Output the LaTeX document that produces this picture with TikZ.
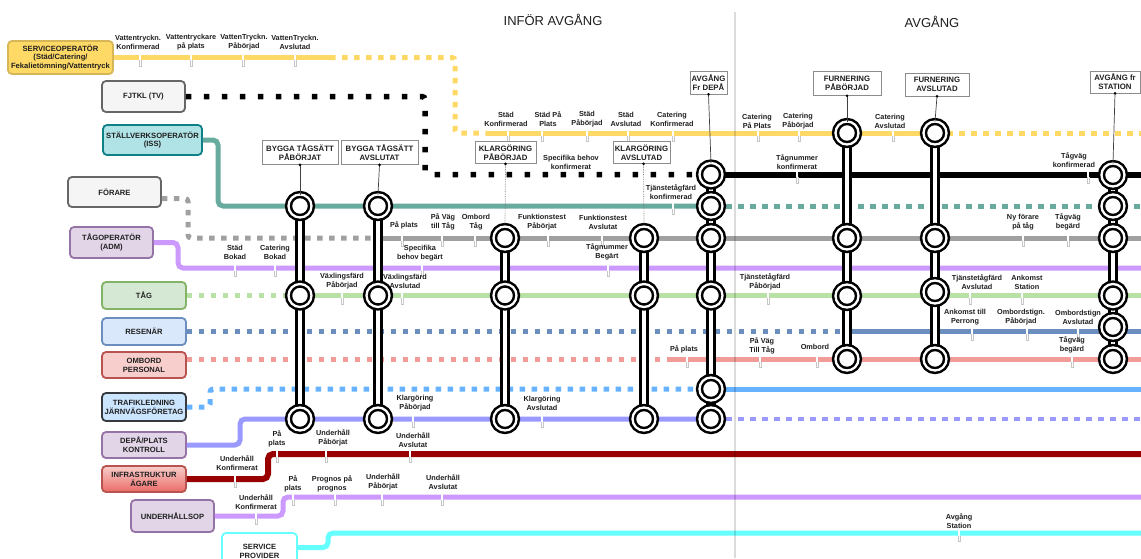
\documentclass[tikz,border=0pt]{standalone}
\usepackage{fontspec}
\setmainfont{Liberation Sans}
\usetikzlibrary{calc}
% line colours
\definecolor{cYel}{HTML}{FFD966}
\definecolor{cYelD}{HTML}{D6B656}
\definecolor{cTeal}{HTML}{67AB9F}
\definecolor{cGray}{HTML}{A0A0A0}
\definecolor{cPur}{HTML}{CC99FF}
\definecolor{cGrn}{HTML}{B9E0A5}
\definecolor{cBlu}{HTML}{6C8EBF}
\definecolor{cRed}{HTML}{F19C99}
\definecolor{cLBl}{HTML}{66B2FF}
\definecolor{cPeri}{HTML}{9999FF}
\definecolor{cDRed}{HTML}{990000}
\definecolor{cCyan}{HTML}{66FFFF}
% box colours
\definecolor{fGrey}{HTML}{F5F5F5}
\definecolor{dGrey}{HTML}{666666}
\definecolor{fTeal}{HTML}{B0E3E6}
\definecolor{dTeal}{HTML}{0E8088}
\definecolor{fPur}{HTML}{E1D5E7}
\definecolor{dPur}{HTML}{9673A6}
\definecolor{fGrn}{HTML}{D5E8D4}
\definecolor{dGrn}{HTML}{82B366}
\definecolor{fBlu}{HTML}{DAE8FC}
\definecolor{fRed}{HTML}{F8CECC}
\definecolor{dRed}{HTML}{B85450}
\definecolor{fLBl}{HTML}{CCE5FF}
\definecolor{dDark}{HTML}{36393D}
\definecolor{gRed}{HTML}{EA6B66}
% small white gap with a grey foot, marking where a label sits on a line
\newcommand\mytick[2]{%
  \fill[white] (#1-1,#2-3.6) rectangle (#1+1,#2+3.6);
  \draw[black!22,line width=0.35] (#1-1,#2+2.8) -- (#1-1,#2+8.5) -- (#1+1,#2+8.5) -- (#1+1,#2+2.8);}
\begin{document}
\begin{tikzpicture}[x=1pt, y=-1pt,
  every node/.style={text=black!88},
  actor/.style={draw, rounded corners=4, line width=1.8, align=center, inner sep=1,
     font=\fontsize{7.6}{8.8}\selectfont\bfseries},
  stbox/.style={draw=black!45, fill=white, line width=0.7, align=center, inner sep=1,
     font=\fontsize{7.8}{9}\selectfont\bfseries},
  stn/.style={circle, draw=black, line width=2.5, double=white, double distance=2.3,
     fill=white, minimum size=23, inner sep=0, outer sep=0},
  lbl/.style={align=center, inner sep=0, font=\fontsize{7.3}{8.9}\selectfont\bfseries},
  trk/.style={line width=5, rounded corners=5},
  dotline/.style={line width=5, dash pattern=on 5.5 off 6.5},
  bigdot/.style={line width=5.5, dash pattern=on 5.5 off 12.5},
  bar/.style={line width=9.5, black},
  barin/.style={line width=4.2, white},
  pin/.style={black!75, line width=0.7},
  dpin/.style={black!55, line width=0.7, densely dotted},
]
\useasboundingbox (0,0) rectangle (1141,558);
\clip (0,0) rectangle (1141,558);

% ---------- section titles ----------
\node[font=\fontsize{13}{15}\selectfont] (ttlA) at (553,20) {INFÖR AVGÅNG};
\node[font=\fontsize{13}{15}\selectfont] (ttlB) at (932,22) {AVGÅNG};

% ---------- actors ----------
\node[actor, fill=cYel, draw=cYelD, minimum width=105, minimum height=33] (svc) at (60.5,57.5)
  {SERVICEOPERATÖR\\(Städ/Catering/\\Fekalietömning/Vattentryck};
\node[actor, fill=fGrey, draw=dGrey, minimum width=83, minimum height=31] (fjtkl) at (143.5,96.5) {FJTKL (TV)};
\node[actor, fill=fTeal, draw=dTeal, minimum width=99, minimum height=30] (iss) at (152.5,140) {STÄLLVERKSOPERATÖR\\(ISS)};
\node[actor, fill=fGrey, draw=dGrey, minimum width=93, minimum height=30] (forare) at (114.5,192) {FÖRARE};
\node[actor, fill=fPur, draw=dPur, minimum width=83, minimum height=31] (adm) at (111.5,242.5) {TÅGOPERATÖR\\(ADM)};
\node[actor, fill=fGrn, draw=dGrn, minimum width=84, minimum height=27] (tag) at (144,295.5) {TÅG};
\node[actor, fill=fBlu, draw=cBlu, minimum width=84, minimum height=27] (resenar) at (144,331.5) {RESENÄR};
\node[actor, fill=fRed, draw=dRed, minimum width=84, minimum height=26] (ombord) at (144,365) {OMBORD\\PERSONAL};
\node[actor, fill=fLBl, draw=dDark, minimum width=84, minimum height=28] (trafik) at (144,407) {TRAFIKLEDNING\\JÄRNVÄGSFÖRETAG};
\node[actor, fill=fPur, draw=dPur, minimum width=84, minimum height=26] (depa) at (144,445) {DEPÅ/PLATS\\KONTROLL};
\node[actor, top color=fRed, bottom color=gRed, draw=dRed, minimum width=84, minimum height=26] (infra) at (144,479) {INFRASTRUKTUR\\ÄGARE};
\node[actor, fill=fPur, draw=dPur, minimum width=83, minimum height=32] (uhop) at (172.5,516) {UNDERHÅLLSOP};
\node[actor, fill=white, draw=cCyan, minimum width=75, minimum height=36] (sp) at (259.5,551) {SERVICE\\PROVIDER};

% ---------- lines ----------
% serviceoperatör
\draw[trk, cYel] (svc.east) -- (330,57.5);
\draw[dotline, cYel, rounded corners=3] (330,57.5) -- (455,57.5) -- (455,133) -- (486,133);
\draw[trk, cYel] (486,133) -- (935,133);
\draw[dotline, cYel] (935,133) -- (1141,133);
% FJTKL
\draw[bigdot, rounded corners=3] (fjtkl.east) -- (425,96.5) -- (425,174.5) -- (700,174.5);
\draw[line width=6] (711,174.5) -- (1141,174.5);
% ställverksoperatör
\draw[trk, cTeal] (iss.east) -- (218,140) -- (218,206) -- (711,206);
\draw[dotline, cTeal] (726,206) -- (1141,206);
% förare
\draw[dotline, cGray, rounded corners=3] ([yshift=-6.5pt]forare.east) -- (188,198.5) -- (188,238) -- (378,238);
\draw[trk, cGray] (378,238) -- (1141,238);
% tågoperatör
\draw[trk, cPur] (adm.east) -- (178,242.5) -- (178,268) -- (1141,268);
% tåg
\draw[dotline, cGrn] (tag.east) -- (300,295.5);
\draw[trk, cGrn] (300,295.5) -- (1141,295.5);
% resenär
\draw[dotline, cBlu] (resenar.east) -- (840,331.5);
\draw[trk, cBlu] (847,331.5) -- (1141,331.5);
% ombordpersonal
\draw[dotline, cRed] ([yshift=6pt]ombord.east) -- (668,359);
\draw[trk, cRed] (668,359) -- (1141,359);
% trafikledning
\draw[dotline, cLBl, rounded corners=3] (trafik.east) -- (210,407) -- (210,389) -- (700,389);
\draw[trk, cLBl] (711,389) -- (1141,389);
% depå/plats
\draw[trk, cPeri] (depa.east) -- (240,445) -- (240,419) -- (726,419);
\draw[cPeri, line width=4, dash pattern=on 5.5 off 6.5] (726,419) -- (1141,419);
% infrastruktur
\draw[trk, cDRed, line width=6] (infra.east) -- (268,479) -- (268,454) -- (1141,454);
% underhåll
\draw[trk, cPur] (uhop.east) -- (283,516) -- (283,497) -- (1141,497);
% service provider
\draw[trk, cCyan] ([yshift=3.5pt]sp.east) -- (328,547.5) -- (328,533) -- (1141,533);

% ---------- label marks ----------
\foreach \x/\y in {140/57.5, 191/57.5, 243/57.5, 295/57.5,
  508/133, 542/133, 587/133, 628/133, 673/133, 758/133, 799/133, 893/133,
  797/174.5, 1088/174.5, 673/206,
  402/238, 442/238, 475/238, 548/238, 602/238, 1023/238, 1068/238,
  235/268, 275/268, 422/268, 608/268,
  342/295.5, 402/295.5, 768/295.5, 970/295.5, 1022/295.5,
  972/331.5, 1027/331.5, 1078/331.5,
  687/359, 760/359, 817/359, 1072/359,
  413/419, 542/419,
  277/454, 326/454, 410/454, 235/479,
  293/497, 335/497, 382/497, 442/497, 256/516,
  959/533}
  {\mytick{\x}{\y}}

% ---------- labels ----------
\node[lbl] (ya) at (138,42) {Vattentryckn.\\Konfirmerad};
\node[lbl] (yb) at (191,42) {Vattentryckare\\på plats};
\node[lbl] (yc) at (244,42) {VattenTryckn.\\Påbörjad};
\node[lbl] (yd) at (295,42) {VattenTryckn.\\Avslutad};
\node[lbl] (ye) at (506,119) {Städ\\Konfirmerad};
\node[lbl] (yf) at (548,119) {Städ På\\Plats};
\node[lbl] (yg) at (587,119) {Städ\\Påbörjad};
\node[lbl] (yh) at (626,119) {Städ\\Avslutad};
\node[lbl] (yi) at (672,119) {Catering\\Konfirmerad};
\node[lbl] (yj) at (757,121) {Catering\\På Plats};
\node[lbl] (yk) at (798,121) {Catering\\Påbörjad};
\node[lbl] (yl) at (890,121) {Catering\\Avslutad};

\node[lbl] (ka) at (571,162) {Specifika behov\\konfirmerat};
\node[lbl] (kb) at (797,162) {Tågnummer\\konfirmerat};
\node[lbl] (kc) at (1074,160) {Tågväg\\konfirmerad};

\node[lbl] (ta) at (671,192) {Tjänstetågfärd\\konfirmerad};

\node[lbl] (ga) at (404,225) {På plats};
\node[lbl] (gb) at (443,222) {På Väg\\till Tåg};
\node[lbl] (gc) at (476,222) {Ombord\\Tåg};
\node[lbl] (gd) at (542,222) {Funktionstest\\Påbörjat};
\node[lbl] (ge) at (603,222) {Funktionstest\\Avslutat};
\node[lbl] (gf) at (1023,222) {Ny förare\\på tåg};
\node[lbl] (gg) at (1068,222) {Tågväg\\begärd};

\node[lbl] (pa) at (235,252) {Städ\\Bokad};
\node[lbl] (pb) at (275,252) {Catering\\Bokad};
\node[lbl] (pc) at (420,253) {Specifika\\behov begärt};
\node[lbl] (pd) at (607,252) {Tågnummer\\Begärt};

\node[lbl] (na) at (342,281) {Växlingsfärd\\Påbörjad};
\node[lbl] (nb) at (405,281) {Växlingsfärd\\Avslutad};
\node[lbl] (nc) at (765,282) {Tjänstetågfärd\\Påbörjad};
\node[lbl] (nd) at (977,282) {Tjänstetågfärd\\Avslutad};
\node[lbl] (ne) at (1027,282) {Ankomst\\Station};

\node[lbl] (ba) at (965,317) {Ankomst till\\Perrong};
\node[lbl] (bb) at (1021,317) {Ombordstign.\\Påbörjad};
\node[lbl] (bc) at (1078,317) {Ombordstign\\Avslutad};

\node[lbl] (ra) at (684,349) {På plats};
\node[lbl] (rb) at (762,346) {På Väg\\Till Tåg};
\node[lbl] (rc) at (815,347) {Ombord};
\node[lbl] (rd) at (1072,345) {Tågväg\\begärd};

\node[lbl] (wa) at (415,403) {Klargöring\\Påbörjad};
\node[lbl] (wb) at (542,403) {Klargöring\\Avslutad};

\node[lbl] (da) at (277,439) {På\\plats};
\node[lbl] (db) at (333,438) {Underhåll\\Påbörjat};
\node[lbl] (dc) at (413,440) {Underhåll\\Avslutat};
\node[lbl] (dd) at (237,463) {Underhåll\\Konfirmerat};

\node[lbl] (ua) at (293,484) {På\\plats};
\node[lbl] (ub) at (332,484) {Prognos på\\prognos};
\node[lbl] (uc) at (383,482) {Underhåll\\Påbörjat};
\node[lbl] (ud) at (443,482) {Underhåll\\Avslutat};
\node[lbl] (ue) at (256,502) {Underhåll\\Konfirmerat};

\node[lbl] (sa) at (959,521) {Avgång\\Station};

% ---------- stations ----------
\coordinate (c1a) at (300,206);   \coordinate (c1b) at (300,295.5); \coordinate (c1c) at (300,419);
\coordinate (c2a) at (378,206);   \coordinate (c2b) at (378,295.5); \coordinate (c2c) at (378,419);
\coordinate (c3a) at (505,238);   \coordinate (c3b) at (505,295.5); \coordinate (c3c) at (505,419);
\coordinate (c4a) at (644,238);   \coordinate (c4b) at (644,295.5); \coordinate (c4c) at (644,419);
\coordinate (c5a) at (711,174.5); \coordinate (c5b) at (711,206);   \coordinate (c5c) at (711,238);
\coordinate (c5d) at (711,295.5); \coordinate (c5e) at (711,389);   \coordinate (c5f) at (711,419);
\coordinate (c6a) at (847,133);   \coordinate (c6b) at (847,238);   \coordinate (c6c) at (847,296);
\coordinate (c6d) at (847,359);
\coordinate (c7a) at (935,133);   \coordinate (c7b) at (935,238);   \coordinate (c7c) at (935,292);
\coordinate (c7d) at (935,359);
\coordinate (c8a) at (1113,175);  \coordinate (c8b) at (1113,206);  \coordinate (c8c) at (1113,238);
\coordinate (c8d) at (1113,295.5);\coordinate (c8e) at (1113,327);  \coordinate (c8f) at (1113,359);

% interchange bars
\foreach \a/\b in {c1a/c1c, c2a/c2c, c3a/c3c, c4a/c4c, c5a/c5f, c6a/c6d, c7a/c7d, c8a/c8f}
  {\draw[bar] (\a) -- (\b); \draw[barin] (\a) -- (\b);}

% station rings
\foreach \c in {c1a,c1b,c1c,c2a,c2b,c2c,c3a,c3b,c3c,c4a,c4b,c4c,
  c5a,c5b,c5c,c5d,c5e,c5f,c6a,c6b,c6c,c6d,c7a,c7b,c7c,c7d,
  c8a,c8b,c8c,c8d,c8e,c8f}
  {\node[stn] (n\c) at (\c) {};}

% milestone boxes
\node[stbox, minimum width=76, minimum height=24] (sb1) at (300,152.5) {BYGGA TÅGSÄTT\\PÅBÖRJAT};
\node[stbox, minimum width=77, minimum height=24] (sb2) at (379.5,152.5) {BYGGA TÅGSÄTT\\AVSLUTAT};
\node[stbox, minimum width=61, minimum height=22] (sb3) at (505.5,152.5) {KLARGÖRING\\PÅBÖRJAD};
\node[stbox, minimum width=57, minimum height=22] (sb4) at (641.5,152.5) {KLARGÖRING\\AVSLUTAD};
\node[stbox, minimum width=37, minimum height=23] (sb5) at (708.5,82.5) {AVGÅNG\\Fr DEPÅ};
\node[stbox, minimum width=68, minimum height=24] (sb6) at (847,83.5) {FURNERING\\PÅBÖRJAD};
\node[stbox, minimum width=64, minimum height=23] (sb7) at (937,84.5) {FURNERING\\AVSLUTAD};
\node[stbox, minimum width=50, minimum height=22] (sb8) at (1115,82) {AVGÅNG fr\\STATION};

% pins from boxes to their first ring
\draw[pin] (sb1.south) -- (nc1a.north);
\draw[pin] (sb2.south) -- (nc2a.north);
\draw[dpin] (sb3.south) -- (nc3a.north);
\draw[dpin] ([xshift=2pt]sb4.south) -- (nc4a.north);
\draw[pin] (sb5.south) -- (nc5a.north);
\draw[pin] (sb6.south) -- (nc6a.north);
\draw[pin] (sb7.south) -- (nc7a.north);
\draw[pin] (sb8.south) -- (nc8a.north);
\foreach \b in {sb1,sb2,sb3,sb5,sb6,sb7,sb8} {\fill (\b.south) circle (1.4);}
\fill ([xshift=2pt]sb4.south) circle (1.4);

% phase divider
\draw[black, opacity=0.14, line width=1.6] (735,12) -- (735,558);
\end{tikzpicture}
\end{document}
